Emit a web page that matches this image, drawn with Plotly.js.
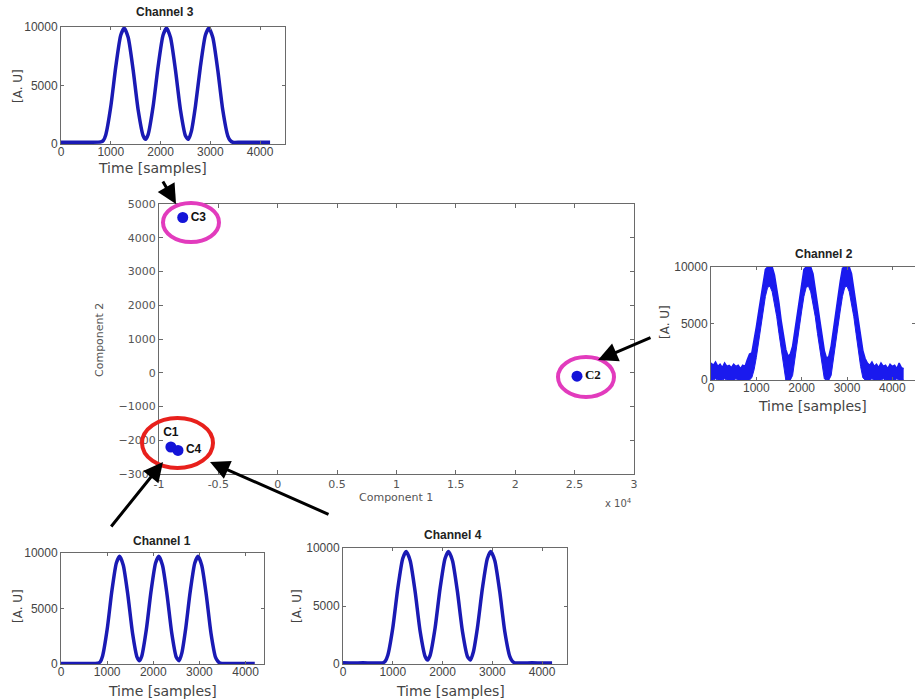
<!DOCTYPE html>
<html>
<head>
<meta charset="utf-8">
<script src="https://cdn.plot.ly/plotly-3.0.1.min.js"></script>
<style>html,body{margin:0;padding:0;background:#fff}#chart{width:915px;height:700px}</style>
</head>
<body>
<div id="chart"></div>
<script>
// ---------- data ----------
const pointLabels = ['C1', 'C2', 'C3', 'C4'];
const component1 = [-9000, 25200, -8000, -8400];
const component2 = [-2200, -100, 4600, -2300];

const mainXTicks = [-10000, -5000, 0, 5000, 10000, 15000, 20000, 25000, 30000];
const mainXTickText = ['-1', '-0.5', '0', '0.5', '1', '1.5', '2', '2.5', '3'];
const mainYTicks = [-3000, -2000, -1000, 0, 1000, 2000, 3000, 4000, 5000];

const chTime = [0,200,400,600,800,850,900,1000,1100,1200,1270,1350,1450,1550,1650,1700,1750,1850,1950,2050,2120,2200,2300,2400,2500,2560,2620,2700,2800,2900,2970,3050,3150,3250,3350,3400,3450,3600,3800,4000,4200];
const ch1 = [50,50,50,50,80,200,700,3100,6500,9100,9700,8900,6200,2800,600,300,700,3100,6500,9100,9700,8900,6200,2800,600,300,1000,3100,6500,9100,9700,8900,6200,2800,600,250,80,50,50,50,50];
const ch3 = [150,150,150,150,180,300,800,3200,6600,9300,9900,9100,6300,2900,700,400,800,3200,6600,9300,9900,9100,6300,2900,700,400,1100,3200,6600,9300,9900,9100,6300,2900,700,300,150,150,150,150,150];
const ch4 = [100,80,100,80,100,250,750,3100,6500,9100,9700,8900,6200,2800,650,350,750,3100,6500,9100,9700,8900,6200,2800,650,350,1050,3100,6500,9100,9700,8900,6200,2800,650,250,100,80,100,80,80];

const ch2Time = [0,50,100,150,200,250,300,350,400,450,500,550,600,650,700,750,800,850,900,950,1000,1050,1100,1150,1200,1250,1300,1350,1400,1450,1500,1550,1600,1650,1700,1750,1800,1850,1900,1950,2000,2050,2100,2150,2200,2250,2300,2350,2400,2450,2500,2550,2600,2650,2700,2750,2800,2850,2900,2950,3000,3050,3100,3150,3200,3250,3300,3350,3400,3450,3500,3550,3600,3650,3700,3750,3800,3850,3900,3950,4000,4050,4100,4150,4200,4250];
const ch2Upper = [1500,1300,1600,1200,1400,1100,1500,1200,1300,1100,1400,1200,1300,1000,1300,1200,1800,2300,2400,3400,4700,6000,7300,8700,9800,10000,10000,10000,9300,8200,6800,5200,3900,2700,2100,2300,3000,4400,5800,7300,8700,9800,10000,10000,10000,9400,8200,6700,5300,3800,2600,1900,2100,3000,4300,5800,7300,8700,9900,10000,10000,10000,9400,8200,6700,5300,3800,2600,1900,1500,1300,1600,1200,1400,1100,1500,1200,1300,1000,1400,1200,1300,1000,1500,1100,1000];
const ch2Lower = [0,0,100,0,0,0,100,0,0,0,0,100,0,0,0,0,0,0,200,900,2000,3300,4700,6100,7400,8200,8300,7800,6800,5600,4100,2600,1200,0,0,0,400,1700,3200,4700,6100,7400,8200,8300,7800,6800,5600,4100,2600,1200,100,0,0,400,1700,3200,4700,6100,7400,8200,8300,7800,6800,5600,4100,2600,1200,200,0,0,0,100,0,0,0,0,100,0,0,0,0,0,100,0,0,0];

const channelTitles = ['Channel 3', 'Channel 2', 'Channel 1', 'Channel 4'];
const insetXTicks = [0, 1000, 2000, 3000, 4000];
const insetYTicks = [0, 5000, 10000];
const insetYTickText = ['0', '5000', '10000'];

// ---------- helpers ----------
const W = 915, H = 700;
const px = v => v / W;
const py = v => 1 - v / H;
const blue = '#1a1ab4';
const grey = '#555555';

function mainAxis(extra) {
  return Object.assign({
    showline: true, linecolor: '#6a6a6a', linewidth: 1, mirror: 'ticks',
    ticks: 'inside', ticklen: 4, tickcolor: '#6a6a6a',
    showgrid: false, zeroline: false,
    tickfont: {family: 'DejaVu Sans', size: 11, color: grey}
  }, extra);
}
function insetAxis(extra) {
  return Object.assign({
    showline: true, linecolor: '#6a6a6a', linewidth: 1, mirror: 'ticks',
    ticks: 'inside', ticklen: 3, tickcolor: '#6a6a6a',
    showgrid: false, zeroline: false,
    tickfont: {family: 'Liberation Sans', size: 12, color: '#444'}
  }, extra);
}
const insetX = (dom, rng, anchor) => insetAxis({domain: dom, range: rng, anchor: anchor,
  tickvals: insetXTicks, ticklabelstandoff: -3});
const insetY = (dom, anchor) => insetAxis({domain: dom, range: [0, 10000], anchor: anchor,
  tickvals: insetYTicks, ticktext: insetYTickText});

const traces = [
  {x: component1, y: component2, text: pointLabels, xaxis: 'x', yaxis: 'y',
   mode: 'markers+text', type: 'scatter',
   marker: {size: 11, color: '#1414d8'},
   textposition: ['top center', 'middle right', 'middle right', 'middle right'],
   textfont: {family: ['Liberation Sans', 'Liberation Serif', 'Liberation Sans', 'Liberation Sans'],
              size: [12, 13, 12, 12], color: '#111', weight: 'bold'},
   cliponaxis: false, hoverinfo: 'skip'},
  {x: chTime, y: ch3, xaxis: 'x2', yaxis: 'y2', mode: 'lines', type: 'scatter',
   line: {color: blue, width: 3.5, shape: 'spline', smoothing: 0.6}},
  {x: ch2Time, y: ch2Lower, xaxis: 'x3', yaxis: 'y3', mode: 'lines', type: 'scatter',
   line: {color: '#1a1aee', width: 1}},
  {x: ch2Time, y: ch2Upper, xaxis: 'x3', yaxis: 'y3', mode: 'lines', type: 'scatter',
   fill: 'tonexty', fillcolor: '#1a1aee', line: {color: '#1a1aee', width: 1.5}},
  {x: chTime, y: ch1, xaxis: 'x4', yaxis: 'y4', mode: 'lines', type: 'scatter',
   line: {color: blue, width: 3.5, shape: 'spline', smoothing: 0.6}},
  {x: chTime, y: ch4, xaxis: 'x5', yaxis: 'y5', mode: 'lines', type: 'scatter',
   line: {color: blue, width: 3.5, shape: 'spline', smoothing: 0.6}}
];

const textAnn = (text, x, y, opts) => Object.assign({
  text: text, x: px(x), y: py(y), xref: 'paper', yref: 'paper', showarrow: false,
  xanchor: 'center', yanchor: 'middle',
  font: {family: 'DejaVu Sans', size: 14, color: '#444'}
}, opts || {});
const titleFont = {family: 'Liberation Sans', size: 12, color: '#222', weight: 'bold'};
const auFont = {family: 'DejaVu Sans', size: 12, color: '#444'};
const arrow = (hx, hy, tx, ty) => ({
  x: px(hx), y: py(hy), xref: 'paper', yref: 'paper', text: '', showarrow: true,
  ax: tx - hx, ay: ty - hy, arrowhead: 2, arrowsize: 1.3, arrowwidth: 3, arrowcolor: '#000'
});

const annotations = [
  textAnn(channelTitles[0], 165, 12, {font: titleFont}),
  textAnn(channelTitles[1], 824, 254, {font: titleFont}),
  textAnn(channelTitles[2], 162, 541, {font: titleFont}),
  textAnn(channelTitles[3], 453, 535, {font: titleFont}),
  textAnn('Time [samples]', 152, 168),
  textAnn('Time [samples]', 812, 406),
  textAnn('Time [samples]', 162, 691),
  textAnn('Time [samples]', 450, 691),
  textAnn('[A. U]', 18, 86, {textangle: -90, font: auFont}),
  textAnn('[A. U]', 665, 322, {textangle: -90, font: auFont}),
  textAnn('[A. U]', 18, 606, {textangle: -90, font: auFont}),
  textAnn('[A. U]', 297, 606, {textangle: -90, font: auFont}),
  textAnn('Component 1', 396, 497, {font: {family: 'DejaVu Sans', size: 11, color: grey}}),
  textAnn('Component 2', 99, 340, {textangle: -90, font: {family: 'DejaVu Sans', size: 11, color: grey}}),
  textAnn('x 10<sup>4</sup>', 618, 503, {font: {family: 'DejaVu Sans', size: 10, color: grey}}),
  arrow(176, 204, 162, 180),
  arrow(598, 360, 652, 337),
  arrow(163, 462, 110, 528),
  arrow(210, 462, 330, 515)
];

const ellipse = (x0, y0, x1, y1, color) => ({
  type: 'circle', xref: 'paper', yref: 'paper',
  x0: px(x0), x1: px(x1), y0: py(y1), y1: py(y0),
  line: {color: color, width: 4}, layer: 'above'
});

const layout = {
  width: W, height: H,
  margin: {l: 0, r: 0, t: 0, b: 0, pad: 0},
  paper_bgcolor: '#fff', plot_bgcolor: '#fff',
  showlegend: false,
  xaxis: mainAxis({domain: [px(159), px(634)], range: [-10000, 30000], anchor: 'y',
                   tickvals: mainXTicks, ticktext: mainXTickText}),
  yaxis: mainAxis({domain: [py(474), py(204)], range: [-3000, 5000], anchor: 'x',
                   tickvals: mainYTicks}),
  xaxis2: insetX([px(61), px(285)], [0, 4500], 'y2'),
  yaxis2: insetY([py(144), py(27)], 'x2'),
  xaxis3: insetX([px(711), 1], [0, 4500], 'y3'),
  yaxis3: insetY([py(380), py(267)], 'x3'),
  xaxis4: insetX([px(61), px(264)], [0, 4400], 'y4'),
  yaxis4: insetY([py(664), py(553)], 'x4'),
  xaxis5: insetX([px(343), px(567)], [0, 4500], 'y5'),
  yaxis5: insetY([py(664), py(548)], 'x5'),
  annotations: annotations,
  shapes: [
    ellipse(163, 203, 219, 242, '#e23bbd'),
    ellipse(142, 418, 213, 468, '#e8201c'),
    ellipse(558, 357, 614, 397, '#e23bbd')
  ]
};

Plotly.newPlot('chart', traces, layout, {displayModeBar: false, staticPlot: true});
</script>
</body>
</html>
